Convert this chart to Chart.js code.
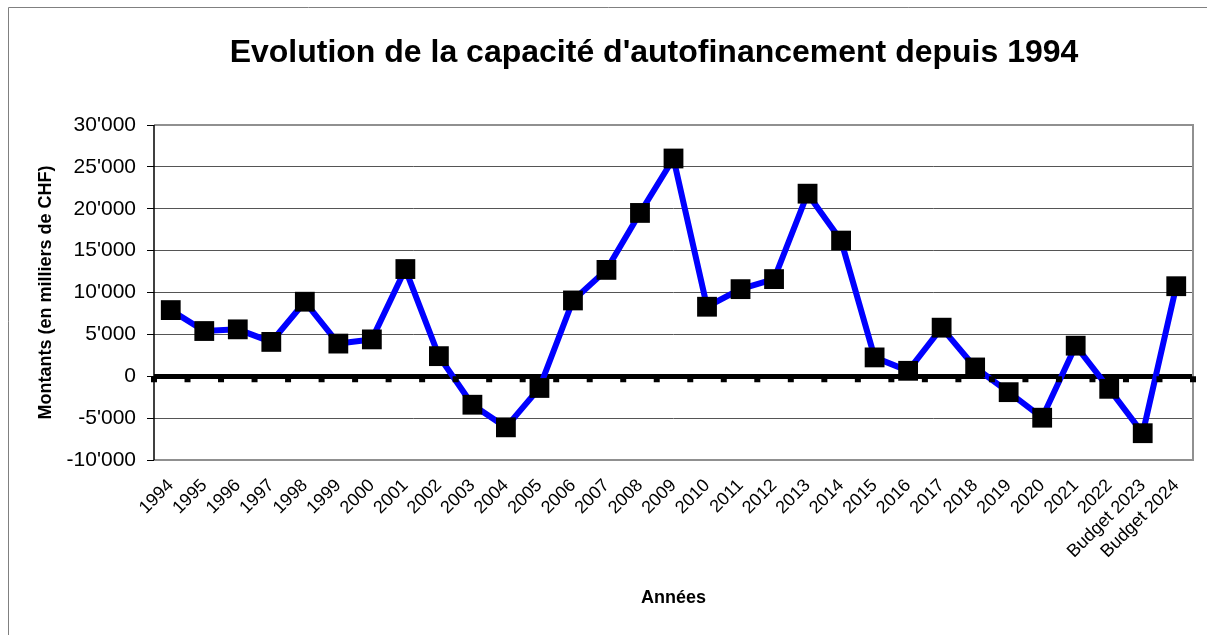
<!DOCTYPE html>
<html>
<head>
<meta charset="utf-8">
<script src="https://cdn.jsdelivr.net/npm/chart.js@4"></script>
<style>
  body { margin: 0; background: #fff; }
</style>
</head>
<body>
<canvas id="cafChart" width="1207" height="635"></canvas>
<script>
const titre = "Evolution de la capacité d'autofinancement depuis 1994";
const annees = ['1994', '1995', '1996', '1997', '1998', '1999', '2000', '2001', '2002', '2003',
  '2004', '2005', '2006', '2007', '2008', '2009', '2010', '2011', '2012', '2013', '2014',
  '2015', '2016', '2017', '2018', '2019', '2020', '2021', '2022', 'Budget 2023', 'Budget 2024'];
const capacite = [7900, 5400, 5600, 4100, 8900, 3900, 4400, 12800, 2400, -3400,
  -6100, -1400, 9050, 12700, 19500, 26000, 8300, 10400, 11600, 21800, 16200,
  2250, 650, 5800, 1050, -1900, -4950, 3650, -1500, -6800, 10750];
const yMin = -10000;
const yMax = 30000;
const yStep = 5000;

function fmt(v) {
  // separateur de milliers suisse
  var s = Math.abs(v).toString().replace(/\B(?=(\d{3})+(?!\d))/g, "'");
  return (v < 0 ? '-' : '') + s;
}

const cadre = {
  id: 'cadre',
  beforeDraw(chart) {
    const ctx = chart.ctx;
    ctx.save();
    ctx.strokeStyle = '#808080';
    ctx.lineWidth = 1;
    ctx.beginPath();
    ctx.moveTo(8.5, 700);
    ctx.lineTo(8.5, 7.5);
    ctx.lineTo(1300, 7.5);
    ctx.stroke();
    // titre
    ctx.fillStyle = '#000';
    ctx.font = 'bold 32px "Liberation Sans", Arial';
    ctx.textAlign = 'center';
    ctx.textBaseline = 'middle';
    ctx.fillText(titre, 654, 53);
    ctx.restore();
  },
  afterDatasetsDraw(chart) {
    // graduations des categories sous la ligne du zero
    const ctx = chart.ctx;
    const x = chart.scales.x;
    const y = chart.scales.y;
    const y0 = y.getPixelForValue(0);
    const w = x.getPixelForValue(1) - x.getPixelForValue(0);
    ctx.save();
    ctx.fillStyle = '#000';
    for (let i = 0; i <= annees.length; i++) {
      const px = x.getPixelForValue(0) - w / 2 + i * w;
      ctx.fillRect(px - 3, y0, 6, 6);
    }
    ctx.restore();
  }
};

const plotBorder = {
  id: 'plotBorder',
  beforeDatasetsDraw(chart) {
    const a = chart.chartArea;
    const ctx = chart.ctx;
    ctx.save();
    ctx.strokeStyle = '#909090';
    ctx.lineWidth = 2;
    ctx.beginPath();
    ctx.moveTo(a.left, a.top);
    ctx.lineTo(a.right, a.top);
    ctx.lineTo(a.right, a.bottom);
    ctx.lineTo(a.left, a.bottom);
    ctx.stroke();
    ctx.strokeStyle = '#000';
    ctx.lineWidth = 1.5;
    ctx.beginPath();
    ctx.moveTo(a.left, a.top);
    ctx.lineTo(a.left, a.bottom);
    ctx.stroke();
    ctx.restore();
  }
};

const data = {
  labels: annees,
  datasets: [
    {
      label: "Capacité d'autofinancement",
      data: capacite,
      borderColor: '#0000ff',
      borderWidth: 6,
      backgroundColor: '#000',
      pointStyle: 'rect',
      pointRadius: 14,
      pointBorderWidth: 0,
      pointBackgroundColor: '#000',
      pointHoverRadius: 14,
      tension: 0,
    },
  ],
};

const config = {
  type: 'line',
  data: data,
  plugins: [cadre, plotBorder],
  options: {
    responsive: false,
    animation: false,
    events: [],
    layout: { padding: { left: 8, right: 11, top: 125, bottom: 0 } },
    plugins: {
      legend: { display: false },
      tooltip: { enabled: false },
      title: { display: false },
    },
    scales: {
      x: {
        offset: true,
        grid: { display: false },
        border: { display: false },
        ticks: {
          color: '#000',
          font: { family: 'Liberation Sans, Arial', size: 18 },
          minRotation: 45,
          maxRotation: 45,
          autoSkip: false,
          padding: 7,
        },
        title: {
          display: true,
          text: 'Années',
          color: '#000',
          font: { family: 'Liberation Sans, Arial', size: 18, weight: 'bold' },
          padding: { top: 0, bottom: 26 },
        },
        afterFit(scale) {
          scale.height = 175;
          scale.paddingRight = 0;
          scale.paddingLeft = 0;
        },
      },
      y: {
        min: yMin,
        max: yMax,
        border: { display: false },
        grid: {
          color: (c) => (c.tick && c.tick.value === 0 ? '#000' : '#555'),
          lineWidth: (c) => (c.tick && c.tick.value === 0 ? 5 : 1),
          tickColor: '#000',
          tickLength: 7,
          tickWidth: 1,
        },
        ticks: {
          stepSize: yStep,
          color: '#000',
          font: { family: 'Liberation Sans, Arial', size: 21 },
          padding: 11,
          callback: (v) => fmt(v),
        },
        title: {
          display: true,
          text: 'Montants (en milliers de CHF)',
          color: '#000',
          font: { family: 'Liberation Sans, Arial', size: 18, weight: 'bold' },
          padding: { top: 27, bottom: 0 },
        },
        afterFit(scale) { scale.width = 146; },
      },
    },
  },
};

var cafChart = new Chart(document.getElementById('cafChart'), config);
</script>
</body>
</html>
